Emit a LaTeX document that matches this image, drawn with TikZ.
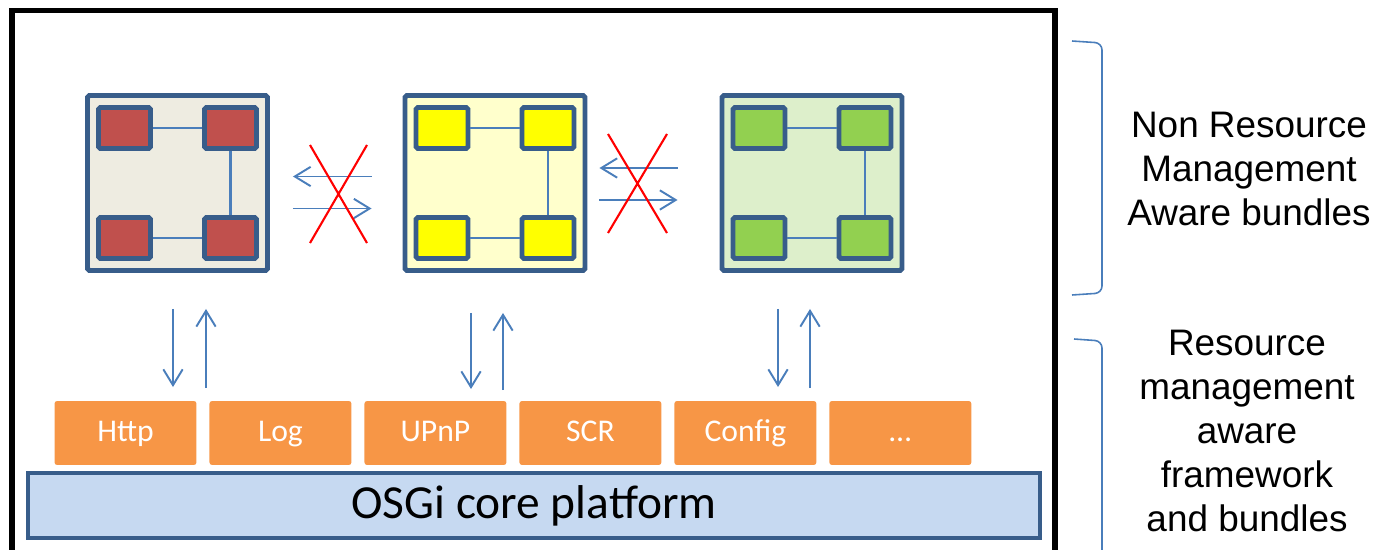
\documentclass[tikz,border=0pt]{standalone}
\usepackage{fontspec}
\setmainfont{Carlito}
\newfontfamily\sidefont{Liberation Sans}
\usetikzlibrary{positioning,arrows.meta}

\definecolor{framecol}{HTML}{385D8A}
\definecolor{linkcol}{HTML}{4A7EBB}
\definecolor{bgone}{HTML}{EEECE1}
\definecolor{sqone}{HTML}{C0504D}
\definecolor{bgtwo}{HTML}{FFFFCC}
\definecolor{sqtwo}{HTML}{FFFF00}
\definecolor{bgthree}{HTML}{DDEFCB}
\definecolor{sqthree}{HTML}{92D050}
\definecolor{servcol}{HTML}{F79646}
\definecolor{corecol}{HTML}{C6D9F1}

\begin{document}
\begin{tikzpicture}[
    x=0.02cm, y=-0.02cm, % one unit = one pixel of the sketch
    bundle/.style={draw=framecol, line width=2.8pt, rounded corners=1pt, outer sep=0pt,
        minimum width=3.6cm, minimum height=3.5cm},
    square/.style={draw=framecol, line width=2.8pt, rounded corners=1pt,
        minimum width=1.04cm, minimum height=0.82cm, inner sep=0pt},
    link/.style={draw=linkcol, line width=1.4pt},
    flow/.style={draw=linkcol, line width=1.1pt, -{Straight Barb[length=9pt,width=11pt]}},
    cross/.style={draw=red, line width=1.2pt},
    service/.style={fill=servcol, rounded corners=1.5pt, outer sep=0pt, text=white,
        minimum width=2.84cm, minimum height=1.28cm, text height=1em, text depth=0em,
        font=\fontsize{18}{22}\selectfont},
    core/.style={draw=framecol, fill=corecol, line width=2.3pt, outer sep=0pt,
        minimum width=20.24cm, minimum height=1.3cm, font=\fontsize{27}{32}\selectfont},
    sidetext/.style={align=center, inner sep=0pt, font=\sidefont\fontsize{21}{25}\selectfont},
    bracket/.style={draw=linkcol, line width=0.9pt, rounded corners=4pt},
]
\useasboundingbox (0,0) rectangle (1378,550);

% A bundle: frame with four linked components inside
\newcommand{\drawbundle}[5]{%
    \node[bundle, fill=#4] (#1) at (#2,#3) {};
    \node[square, fill=#5] (#1tl) at ([shift={(-53,-55)}]#1.center) {};
    \node[square, fill=#5] (#1tr) at ([shift={(53,-55)}]#1.center) {};
    \node[square, fill=#5] (#1bl) at ([shift={(-53,55)}]#1.center) {};
    \node[square, fill=#5] (#1br) at ([shift={(53,55)}]#1.center) {};
    \draw[link] (#1tl) -- (#1tr);
    \draw[link] (#1tr) -- (#1br);
    \draw[link] (#1bl) -- (#1br);
}

% Outer frame
\draw[line width=3.2pt] (12,10.5) rectangle (1055,600);

% Bundles
\drawbundle{bone}{177.5}{183}{bgone}{sqone}
\drawbundle{btwo}{495}{183}{bgtwo}{sqtwo}
\drawbundle{bthree}{812}{183}{bgthree}{sqthree}

% Services
\node[service] (http) at (125.5,433) {Http};
\node[service, right=0.26cm of http] (log) {Log};
\node[service, right=0.26cm of log] (upnp) {UPnP};
\node[service, right=0.26cm of upnp] (scr) {SCR};
\node[service, right=0.26cm of scr] (config) {Config};
\node[service, right=0.26cm of config] (more) {\dots};

% Core platform
\node[core] (osgi) at (534,505.5) {OSGi core platform};

% Forbidden links between bundles
\draw[flow, shorten <=0.67cm, shorten >=0.51cm] ([yshift=0.13cm]btwo.west) -- ([yshift=0.13cm]bone.east);
\draw[flow, shorten <=0.51cm, shorten >=0.67cm] ([yshift=-0.51cm]bone.east) -- ([yshift=-0.51cm]btwo.west);
\draw[cross] (310,145) -- (367,243) (367,145) -- (310,243);

\draw[flow, shorten <=0.89cm, shorten >=0.29cm] ([yshift=0.3cm]bthree.west) -- ([yshift=0.3cm]btwo.east);
\draw[flow, shorten <=0.29cm, shorten >=0.89cm] ([yshift=-0.34cm]btwo.east) -- ([yshift=-0.34cm]bthree.west);
\draw[cross] (608,134) -- (667,233) (667,134) -- (608,233);

% Bundles to services and back
\draw[flow, shorten <=0.77cm, shorten >=0.28cm] ([xshift=-0.09cm]bone.south) -- ([xshift=-0.09cm]bone.south |- http.north);
\draw[flow, shorten <=0.26cm, shorten >=0.77cm] ([xshift=0.57cm]bone.south |- http.north) -- ([xshift=0.57cm]bone.south);
\draw[flow, shorten <=0.85cm, shorten >=0.24cm] ([xshift=-0.48cm]btwo.south) -- ([xshift=-0.48cm]btwo.south |- upnp.north);
\draw[flow, shorten <=0.22cm, shorten >=0.85cm] ([xshift=0.16cm]btwo.south |- upnp.north) -- ([xshift=0.16cm]btwo.south);
\draw[flow, shorten <=0.77cm, shorten >=0.28cm] ([xshift=-0.68cm]bthree.south) -- ([xshift=-0.68cm]bthree.south |- config.north);
\draw[flow, shorten <=0.26cm, shorten >=0.77cm] ([xshift=-0.04cm]bthree.south |- config.north) -- ([xshift=-0.04cm]bthree.south);

% Side brackets and labels
\draw[bracket] (1072,41) -- (1102,43) -- (1102,293) -- (1072,295);
\draw[bracket] (1074,339) -- (1102,341) -- (1102,620);
\node[sidetext] (nonaware) at (1249,169) {Non Resource\\Management\\Aware bundles};
\node[sidetext] (aware) at (1247,431) {Resource\\management\\aware\\framework\\and bundles};

\end{tikzpicture}
\end{document}
